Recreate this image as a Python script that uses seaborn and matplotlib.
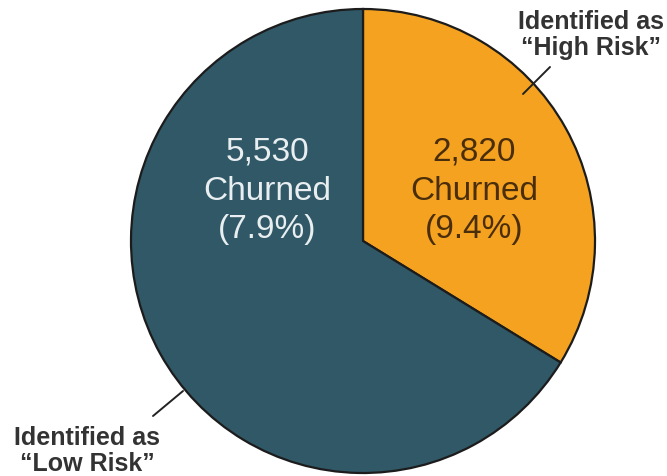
import matplotlib
matplotlib.use("Agg")
import matplotlib.pyplot as plt
import seaborn as sns

sns.set_theme(style="white")
plt.rcParams['font.family'] = ['Liberation Sans', 'DejaVu Sans']

# Data
segments = ["Identified as\n\u201cHigh Risk\u201d", "Identified as\n\u201cLow Risk\u201d"]
churned = [2820, 5530]
churn_rate = [9.4, 7.9]
colors = ["#f4a21f", "#305867"]
text_colors = ["#4a2e0c", "#e9eff1"]

W, H = 667, 477
fig = plt.figure(figsize=(W / 100, H / 100), dpi=100)
ax = fig.add_axes([0, 0, 1, 1])

cx, cy, R = 363, 242, 232  # pixel geometry (from top)

def px(x, y):
    return ((x - cx) / R, (cy - y) / R)

ax.axis("off")

wedges, _ = ax.pie(churned, colors=colors, startangle=90, counterclock=False,
                   radius=1.0, center=(0, 0),
                   wedgeprops=dict(edgecolor="#1c1c1c", linewidth=1.6))
ax.set_aspect("auto")
ax.set_xlim(-cx / R, (W - cx) / R)
ax.set_ylim(-(H - cy) / R, cy / R)

label_pos = [(474, 191), (267, 191)]
for i in range(2):
    x, y = px(*label_pos[i])
    ax.text(x, y, f"{churned[i]:,}\nChurned\n({churn_rate[i]:.1f}%)",
            ha="center", va="center", fontsize=24, color=text_colors[i],
            linespacing=1.32)

# Callout labels
call_pos = [(591, 35), (87, 451)]
for i in range(2):
    x, y = px(*call_pos[i])
    ax.text(x, y, segments[i], ha="center", va="center", fontsize=18,
            fontweight="bold", color="#333333", linespacing=1.12)

# Leader lines
lines = [((550, 68), (523, 95)), ((183, 392), (153, 417))]
for (a, b) in lines:
    p1, p2 = px(*a), px(*b)
    ax.plot([p1[0], p2[0]], [p1[1], p2[1]], color="#222222", linewidth=1.4)

fig.savefig("out.png", dpi=100)
